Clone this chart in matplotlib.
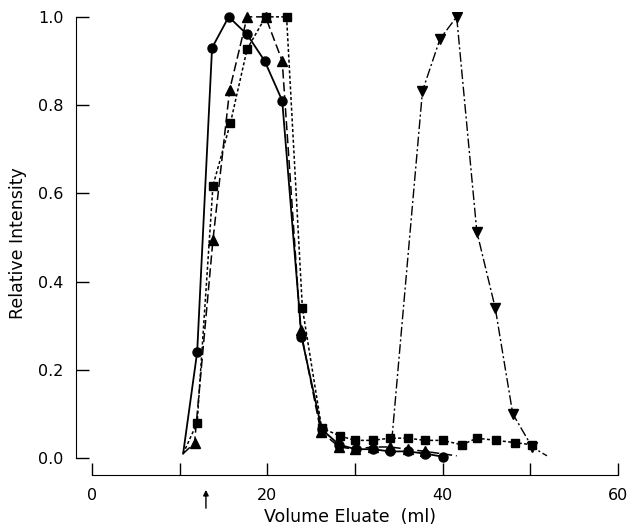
import matplotlib
matplotlib.use("Agg")
import matplotlib.pyplot as plt

# circles, solid line
circ_x = [10.4, 12.0, 13.7, 15.6, 17.7, 19.7, 21.7, 23.9, 26.2, 28.2, 30.1, 32.0, 34.0, 36.0, 38.0, 40.0]
circ_y = [0.01, 0.24, 0.93, 1.0, 0.96, 0.90, 0.81, 0.275, 0.065, 0.03, 0.02, 0.02, 0.015, 0.015, 0.01, 0.003]

# triangles, dashed line
tri_x = [10.4, 11.7, 13.8, 15.7, 17.7, 19.8, 21.7, 23.8, 26.1, 28.2, 30.0, 32.0, 34.0, 36.0, 38.0, 41.6]
tri_y = [0.01, 0.034, 0.494, 0.834, 1.0, 1.0, 0.90, 0.29, 0.06, 0.025, 0.02, 0.025, 0.025, 0.02, 0.015, 0.005]

# squares, dotted line
sq_x = [10.4, 12.0, 13.8, 15.8, 17.7, 19.8, 22.2, 24.0, 26.2, 28.3, 30.0, 32.0, 34.0, 36.0, 38.0,
        40.0, 42.2, 43.9, 46.1, 48.2, 50.2]
sq_y = [0.01, 0.08, 0.617, 0.76, 0.927, 1.0, 1.0, 0.34, 0.068, 0.05, 0.04, 0.04, 0.045, 0.045, 0.04,
        0.04, 0.03, 0.045, 0.04, 0.035, 0.03]

# inverted triangles, dash-dot line
inv_x = [34.2, 37.7, 39.7, 41.6, 43.9, 46.0, 48.0, 50.2, 51.9]
inv_y = [0.04, 0.832, 0.95, 1.0, 0.513, 0.34, 0.10, 0.025, 0.005]

x_ticks = [0, 20, 40, 60]
x_minor = [10, 30, 50]
y_ticks = [0.0, 0.2, 0.4, 0.6, 0.8, 1.0]
void_volume = 13

plt.rcParams['font.family'] = ['DejaVu Sans']

fig = plt.figure(figsize=(6.33, 5.28), dpi=100)
ax = fig.add_axes([76 / 633, 53 / 528, 549 / 633, 463 / 528])

ms = 6.5
ax.plot(circ_x, circ_y, color='black', lw=1.3, ls='-', marker='o', ms=ms,
        markevery=list(range(1, len(circ_x))))
ax.plot(tri_x, tri_y, color='black', lw=1.1, ls=(0, (6, 2.5)), marker='^', ms=ms,
        markevery=list(range(1, len(tri_x) - 1)))
ax.plot(sq_x, sq_y, color='black', lw=1.1, ls=(0, (2, 1.5)), marker='s', ms=ms - 0.5,
        markevery=list(range(1, len(sq_x))))
ax.plot(inv_x, inv_y, color='black', lw=1.0, ls=(0, (7, 2, 1.5, 2)), marker='v', ms=ms,
        markevery=list(range(1, len(inv_x) - 1)))

ax.set_xlim(-1.82, 60.8)
ax.set_ylim(-0.0385, 1.011)

for s in ['top', 'right']:
    ax.spines[s].set_visible(False)
ax.spines['left'].set_bounds(0, 1)
ax.spines['bottom'].set_bounds(0, 60)

ax.set_xticks(x_ticks)
ax.set_xticks(x_minor, minor=True)
ax.set_yticks(y_ticks)
ax.set_yticklabels(['0.0', '0.2', '0.4', '0.6', '0.8', '1.0'])
ax.tick_params(axis='both', which='both', direction='in', length=9, width=1, labelsize=11.5)
ax.tick_params(axis='x', which='both', pad=9)
ax.tick_params(axis='y', pad=9)

ax.set_xlabel('Volume Eluate  (ml)', fontsize=12.5, labelpad=4)
ax.set_ylabel('Relative Intensity', fontsize=12.5, labelpad=8)

ax.annotate('', xy=(void_volume, -0.066), xytext=(void_volume, -0.12),
            arrowprops=dict(arrowstyle='-|>', color='black', lw=1, mutation_scale=8),
            annotation_clip=False)

fig.savefig('out.png', dpi=100)
